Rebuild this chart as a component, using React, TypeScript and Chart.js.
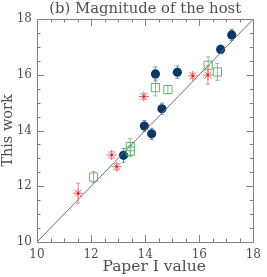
import React, { useEffect, useRef } from "react";
import { Chart, registerables } from "chart.js";

Chart.register(...registerables);

// Dark blue filled circles
const blueX = [17.2, 16.79, 14.38, 15.19, 14.62, 13.97, 14.24, 13.2];
const blueY = [17.43, 16.91, 16.03, 16.09, 14.78, 14.16, 13.88, 13.11];
const blueErr = [0.2, 0.15, 0.25, 0.22, 0.2, 0.2, 0.2, 0.25];

// Red asterisks
const redX = [13.95, 15.76, 16.32, 12.76, 12.95, 11.52];
const redY = [15.22, 15.96, 15.99, 13.12, 12.7, 11.75];
const redErr = [0.1, 0.1, 0.33, 0.12, 0.12, 0.36];

// Green open squares
const greenX = [14.38, 14.84, 16.33, 16.67, 12.09, 13.45, 13.45];
const greenY = [15.54, 15.47, 16.34, 16.1, 12.33, 13.42, 13.26];
const greenErr = [0.3, 0.15, 0.3, 0.3, 0.2, 0.3, 0.2];

// one-to-one line
const diagVals = [10, 18];

const axisMin = 10;
const axisMax = 18;
const majorStep = 2;
const minorStep = 0.5;

const titleText = "(b) Magnitude of the host";
const xTitle = "Paper I value";
const yTitle = "This work";

const FONT = "'DejaVu Serif', serif";
const TEXT = "#505050";
const FRAME = "#808080";

const pts = (xs: number[], ys: number[]) => xs.map((x, i) => ({ x, y: ys[i] }));

const errorBarPlugin = {
  id: "errbars",
  beforeDatasetsDraw(chart: any) {
    const ctx = chart.ctx;
    const xs = chart.scales.x;
    const ys = chart.scales.y;
    chart.data.datasets.forEach((ds: any) => {
      if (!ds.errs) return;
      ctx.save();
      ctx.strokeStyle = ds.errColor;
      ctx.lineWidth = 1;
      ds.data.forEach((p: any, i: number) => {
        const e = ds.errs[i];
        const px = xs.getPixelForValue(p.x);
        const y1 = ys.getPixelForValue(p.y - e);
        const y2 = ys.getPixelForValue(p.y + e);
        ctx.beginPath();
        ctx.moveTo(px, y1);
        ctx.lineTo(px, y2);
        ctx.moveTo(px - 2, y1);
        ctx.lineTo(px + 2, y1);
        ctx.moveTo(px - 2, y2);
        ctx.lineTo(px + 2, y2);
        ctx.stroke();
      });
      ctx.restore();
    });
  },
  afterDatasetsDraw(chart: any) {
    const ctx = chart.ctx;
    const xs = chart.scales.x;
    const ys = chart.scales.y;
    chart.data.datasets.forEach((ds: any) => {
      if (!ds.centerDot) return;
      ctx.save();
      ctx.fillStyle = ds.centerDot;
      ds.data.forEach((p: any) => {
        ctx.beginPath();
        ctx.arc(xs.getPixelForValue(p.x), ys.getPixelForValue(p.y), 1.3, 0, Math.PI * 2);
        ctx.fill();
      });
      ctx.restore();
    });
  },
};

const framePlugin = {
  id: "frame",
  afterDraw(chart: any) {
    const ctx = chart.ctx;
    const { left, right, top, bottom } = chart.chartArea;
    const xs = chart.scales.x;
    const ys = chart.scales.y;
    ctx.save();
    ctx.strokeStyle = FRAME;
    ctx.lineWidth = 1;
    ctx.beginPath();
    ctx.rect(Math.round(left) + 0.5, Math.round(top) + 0.5, Math.round(right - left), Math.round(bottom - top));
    ctx.stroke();
    ctx.beginPath();
    for (let v = axisMin + minorStep; v < axisMax; v += minorStep) {
      const major = Math.abs(v / majorStep - Math.round(v / majorStep)) < 1e-6;
      const len = major ? 7 : 3.5;
      const px = Math.round(xs.getPixelForValue(v)) + 0.5;
      const py = Math.round(ys.getPixelForValue(v)) + 0.5;
      ctx.moveTo(px, bottom);
      ctx.lineTo(px, bottom - len);
      ctx.moveTo(px, top);
      ctx.lineTo(px, top + len);
      ctx.moveTo(left, py);
      ctx.lineTo(left + len, py);
      ctx.moveTo(right, py);
      ctx.lineTo(right - len, py);
    }
    ctx.stroke();

    // titles
    ctx.fillStyle = TEXT;
    ctx.textAlign = "center";
    ctx.textBaseline = "middle";
    ctx.font = `14.8px ${FONT}`;
    ctx.fillText(titleText, (left + right) / 2, 9);
    ctx.font = `15.5px ${FONT}`;
    ctx.fillText(xTitle, (left + right) / 2 + 9, 267);
    ctx.restore();
  },
};

export default function App() {
  const ref = useRef<HTMLCanvasElement | null>(null);
  useEffect(() => {
    if (!ref.current) return;
    const chart = new Chart(ref.current, {
      type: "scatter",
      data: {
        datasets: [
          {
            type: "line",
            data: pts(diagVals, diagVals),
            borderColor: "#707070",
            borderWidth: 1,
            pointRadius: 0,
            fill: false,
          } as any,
          {
            data: pts(greenX, greenY),
            pointStyle: "rect",
            pointRadius: 5.8,
            borderColor: "#62b86e",
            backgroundColor: "rgba(255,255,255,0)",
            borderWidth: 1,
            errs: greenErr,
            errColor: "#7cc888",
          } as any,
          {
            data: pts(redX, redY),
            pointStyle: "star",
            pointRadius: 5,
            borderColor: "#ec6a6a",
            backgroundColor: "#ec6a6a",
            borderWidth: 1,
            errs: redErr,
            errColor: "#f08a8a",
            centerDot: "#d42a2a",
          } as any,
          {
            data: pts(blueX, blueY),
            pointStyle: "circle",
            pointRadius: 4.6,
            borderColor: "#0b3763",
            backgroundColor: "#0b3763",
            borderWidth: 0,
            errs: blueErr,
            errColor: "#6d8fb8",
          } as any,
        ],
      },
      options: {
        responsive: false,
        animation: false,
        devicePixelRatio: 1,
        layout: { padding: { left: 0, right: 7, top: 19, bottom: 0 } },
        plugins: {
          legend: { display: false },
          tooltip: { enabled: false },
          title: { display: false },
        },
        scales: {
          x: {
            type: "linear",
            min: axisMin,
            max: axisMax,
            grid: { display: false, drawTicks: false },
            border: { display: false },
            ticks: {
              stepSize: majorStep,
              color: TEXT,
              font: { family: FONT, size: 12 },
              padding: 6,
              maxRotation: 0,
            },
            title: { display: false },
            afterFit(scale: any) {
              scale.height = 35;
            },
          },
          y: {
            type: "linear",
            min: axisMin,
            max: axisMax,
            grid: { display: false, drawTicks: false },
            border: { display: false },
            ticks: {
              stepSize: majorStep,
              color: TEXT,
              font: { family: FONT, size: 12 },
              padding: 5,
            },
            title: {
              display: true,
              text: yTitle,
              color: TEXT,
              font: { family: FONT, size: 14.5 },
              padding: { top: 0, bottom: 0 },
            },
            afterFit(scale: any) {
              scale.width = 37;
            },
          },
        },
      } as any,
      plugins: [errorBarPlugin, framePlugin],
    });
    return () => chart.destroy();
  }, []);
  return (
    <div style={{ position: "fixed", left: 0, top: 0, width: 267, height: 277, background: "#fff" }}>
      <canvas ref={ref} width={267} height={277} style={{ width: 267, height: 277 }} />
    </div>
  );
}
